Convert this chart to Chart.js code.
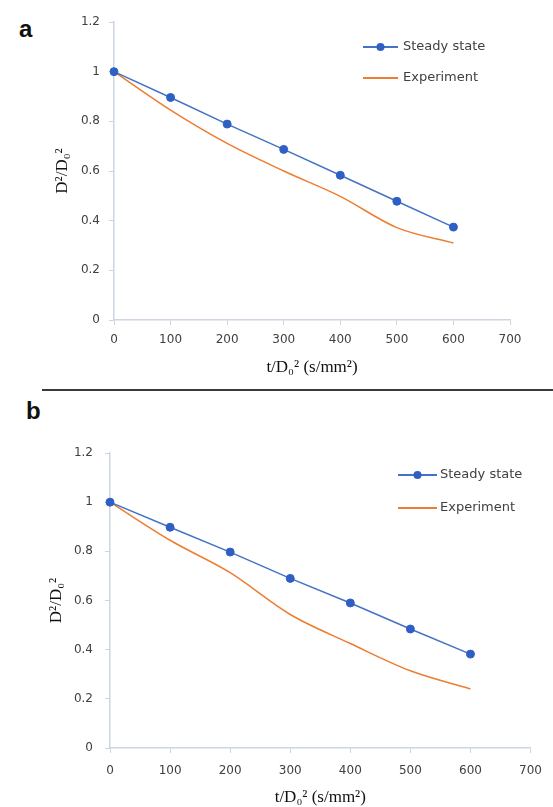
<!DOCTYPE html>
<html>
<head>
<meta charset="utf-8">
<title>Droplet regression</title>
<script src="https://cdn.jsdelivr.net/npm/chart.js@4.4.1/dist/chart.umd.min.js"></script>
<style>
  html, body { margin: 0; padding: 0; background: #fff; }
  body { width: 553px; height: 807px; position: relative; overflow: hidden; }
  canvas { position: absolute; left: 0; }
  #chart-a { top: 0; }
  #chart-b { top: 395px; }
  .panel-tag {
    position: absolute;
    font: bold 24px "Liberation Sans", Arial, sans-serif;
    color: #111;
    line-height: 1;
  }
  #tag-a { left: 19px; top: 17px; }
  #tag-b { left: 26px; top: 399px; }
  #divider {
    position: absolute;
    left: 42px; top: 389px;
    width: 511px; height: 2px;
    background: #3a3a3a;
  }
</style>
</head>
<body>
<div class="panel-tag" id="tag-a">a</div>
<canvas id="chart-a" width="553" height="385"></canvas>
<div id="divider"></div>
<div class="panel-tag" id="tag-b">b</div>
<canvas id="chart-b" width="553" height="420"></canvas>

<script>
// Normalised time t/D0^2 (s/mm^2)
const timeValues = [0, 100, 200, 300, 400, 500, 600];

// Panel a: squared diameter ratio D^2/D0^2
const steadyA = [1, 0.896, 0.789, 0.687, 0.583, 0.478, 0.374];
const experimentA = [1, 0.845, 0.711, 0.600, 0.498, 0.372, 0.310];

// Panel b
const steadyB = [1, 0.898, 0.797, 0.690, 0.590, 0.484, 0.382];
const experimentB = [1, 0.845, 0.713, 0.543, 0.425, 0.314, 0.240];

// Axis ticks
const xTicks = [0, 100, 200, 300, 400, 500, 600, 700];
const yTicks = [0, 0.2, 0.4, 0.6, 0.8, 1, 1.2];

const seriesNames = ['Steady state', 'Experiment'];

const axisColor = '#cdd5e3';
const labelColor = '#404040';
const tickFont = { family: '"DejaVu Sans", sans-serif', size: 12 };
const titleFont = { family: '"Liberation Serif", "Times New Roman", serif', size: 17 };

// Legend drawn inside the plot, Excel style (line sample with marker)
const inlineLegend = {
    id: 'inlineLegend',
    afterDraw(chart, args, opts) {
        const ctx = chart.ctx;
        ctx.save();
        ctx.font = opts.font;
        ctx.textBaseline = 'middle';
        ctx.textAlign = 'left';
        chart.data.datasets.forEach((ds, i) => {
            const y = opts.y + i * opts.rowGap;
            ctx.strokeStyle = ds.borderColor;
            ctx.lineWidth = opts.lineWidth;
            ctx.beginPath();
            ctx.moveTo(opts.x, y);
            ctx.lineTo(opts.x + opts.lineLength, y);
            ctx.stroke();
            if (ds.pointRadius > 0) {
                ctx.fillStyle = ds.pointBackgroundColor;
                ctx.beginPath();
                ctx.arc(opts.x + opts.lineLength / 2, y, ds.pointRadius, 0, Math.PI * 2);
                ctx.fill();
            }
            ctx.fillStyle = opts.color;
            ctx.fillText(ds.label, opts.x + opts.lineLength + opts.textGap, y);
        });
        ctx.restore();
    }
};

function toPoints(values) {
    return values.map((v, i) => ({ x: timeValues[i], y: v }));
}

function buildChart(canvasId, steady, experiment, box) {
    const ctx = document.getElementById(canvasId).getContext('2d');
    return new Chart(ctx, {
        type: 'line',
        data: {
            datasets: [{
                label: seriesNames[0],
                data: toPoints(steady),
                borderColor: '#4472c4',
                borderWidth: 1.5,
                pointRadius: 4,
                pointBackgroundColor: '#2f5fc4',
                pointBorderColor: '#2f5fc4',
                pointBorderWidth: 1,
                tension: 0,
                clip: false
            }, {
                label: seriesNames[1],
                data: toPoints(experiment),
                borderColor: '#ed7d31',
                borderWidth: 1.5,
                pointRadius: 0,
                cubicInterpolationMode: 'monotone',
                clip: false
            }]
        },
        options: {
            responsive: false,
            animation: false,
            events: [],
            layout: { padding: { top: box.top, right: box.right, left: 0, bottom: 0 } },
            plugins: {
                legend: { display: false },
                tooltip: { enabled: false },
                inlineLegend: box.legend
            },
            scales: {
                x: {
                    type: 'linear',
                    min: 0,
                    max: 700,
                    afterBuildTicks: (axis) => { axis.ticks = xTicks.map(v => ({ value: v })); },
                    afterFit: (axis) => { axis.height = box.xHeight; },
                    ticks: { font: tickFont, color: labelColor, padding: box.xPad, maxRotation: 0, callback: v => String(v) },
                    grid: { drawOnChartArea: false, drawTicks: true, tickLength: 5, color: axisColor },
                    border: { color: axisColor, width: 1.5 },
                    title: {
                        display: true,
                        text: 't/D\u2080\u00b2 (s/mm\u00b2)',
                        font: titleFont,
                        color: '#111',
                        padding: { top: 0, bottom: box.xTitlePad }
                    }
                },
                y: {
                    type: 'linear',
                    min: 0,
                    max: 1.2,
                    afterBuildTicks: (axis) => { axis.ticks = yTicks.map(v => ({ value: v })); },
                    afterFit: (axis) => { axis.width = box.yWidth; },
                    ticks: { font: tickFont, color: labelColor, padding: box.yPad, callback: v => String(v) },
                    grid: { drawOnChartArea: false, drawTicks: true, tickLength: 5, color: axisColor },
                    border: { color: axisColor, width: 1.5 },
                    title: {
                        display: true,
                        text: 'D\u00b2/D\u2080\u00b2',
                        font: titleFont,
                        color: '#111',
                        padding: { top: box.yTitlePad, bottom: 0 }
                    }
                }
            }
        },
        plugins: [inlineLegend]
    });
}

buildChart('chart-a', steadyA, experimentA, {
    top: 22, right: 43, yWidth: 114, xHeight: 65,
    xPad: 8, yPad: 9, xTitlePad: 7, yTitlePad: 52,
    legend: { x: 363, y: 47, rowGap: 31, lineLength: 35, textGap: 5, lineWidth: 2,
              font: '13px "DejaVu Sans", sans-serif', color: '#404040' }
});

buildChart('chart-b', steadyB, experimentB, {
    top: 58, right: 21, yWidth: 110, xHeight: 67,
    xPad: 11, yPad: 12, xTitlePad: 7, yTitlePad: 46,
    legend: { x: 398, y: 80, rowGap: 33, lineLength: 39, textGap: 3, lineWidth: 2,
              font: '13px "DejaVu Sans", sans-serif', color: '#404040' }
});
</script>
</body>
</html>
